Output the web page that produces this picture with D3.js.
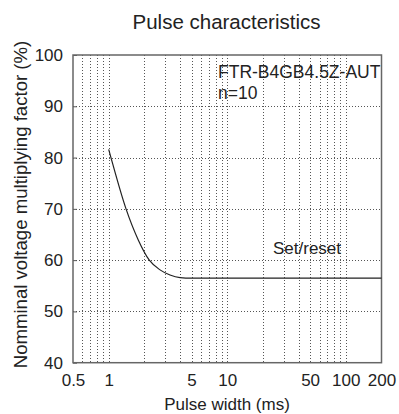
<!DOCTYPE html>
<html><head><meta charset="utf-8">
<script src="https://cdn.jsdelivr.net/npm/d3@7"></script>
<style>body{margin:0;background:#fff}svg{display:block}text{font-family:"Liberation Sans",Arial,sans-serif;fill:#222}</style>
</head><body>
<script>
const pulseWidth = [1, 1.045, 1.4, 1.78, 2.2, 2.71, 3.29, 4.0, 5, 10, 50, 200];
const factor     = [81.6, 80, 70, 63.9, 60, 58.1, 57.1, 56.6, 56.5, 56.5, 56.5, 56.5];
const xTickLabels = [0.5, 1, 5, 10, 50, 100, 200];
const yTickLabels = [40, 50, 60, 70, 80, 90, 100];
const xGridValues = [0.6,0.7,0.8,0.9,1,2,3,4,5,6,7,8,9,10,20,30,40,50,60,70,80,90,100];
const yGridValues = [50, 60, 70, 80, 90];
const title = "Pulse characteristics";
const xTitle = "Pulse width (ms)";
const yTitle = "Nomminal voltage multiplying factor (%)";
const annotations = ["FTR-B4GB4.5Z-AUT", "n=10"];
const seriesLabel = "Set/reset";

const W = 399, H = 414;
const L = 73, R = 381.5, T = 55, B = 362.7;
const svg = d3.select("body").append("svg").attr("width", W).attr("height", H);
const x = d3.scaleLog().domain([0.5, 200]).range([L, R]);
const y = d3.scaleLinear().domain([40, 100]).range([B, T]);

const grid = svg.append("g").attr("stroke", "#555").attr("stroke-width", 1).attr("stroke-dasharray", "1,2");
grid.selectAll(".vx").data(xGridValues).join("line")
  .attr("x1", d => Math.round(x(d)) + 0.5).attr("x2", d => Math.round(x(d)) + 0.5)
  .attr("y1", T).attr("y2", B);
grid.selectAll(".hy").data(yGridValues).join("line")
  .attr("y1", d => Math.round(y(d)) + 0.5).attr("y2", d => Math.round(y(d)) + 0.5)
  .attr("x1", L).attr("x2", R);

// axes
const xAxis = d3.axisBottom(x).tickValues(xTickLabels).tickSize(0).tickPadding(11).tickFormat(d => d);
const gx = svg.append("g").attr("transform", `translate(0,${B})`).call(xAxis);
gx.select(".domain").remove();
gx.selectAll("text").attr("font-size", 17).style("font-family", '"Liberation Sans",Arial,sans-serif').attr("fill", "#222");

const yAxis = d3.axisLeft(y).tickValues(yTickLabels).tickSize(-4).tickPadding(10).tickFormat(d => d);
const gy = svg.append("g").attr("transform", `translate(${L},0)`).call(yAxis);
gy.select(".domain").remove();
gy.selectAll("line").attr("stroke", "#555");
gy.selectAll("text").attr("font-size", 17).style("font-family", '"Liberation Sans",Arial,sans-serif').attr("fill", "#222");

svg.append("rect").attr("x", L).attr("y", T).attr("width", R - L).attr("height", B - T)
  .attr("fill", "none").attr("stroke", "#666").attr("stroke-width", 1.5);

// curve
const line = d3.line().x((d, i) => x(pulseWidth[i])).y((d, i) => y(factor[i])).curve(d3.curveMonotoneX);
svg.append("path").datum(factor).attr("d", line).attr("fill", "none").attr("stroke", "#222").attr("stroke-width", 1.2);

// texts
svg.append("text").attr("x", 226.5).attr("y", 29).attr("text-anchor", "middle").attr("font-size", 20.5).text(title);
svg.append("text").attr("x", 227).attr("y", 410).attr("text-anchor", "middle").attr("font-size", 17).text(xTitle);
svg.append("text").attr("transform", "translate(27,204.5) rotate(-90)").attr("text-anchor", "middle").attr("font-size", 18.6).text(yTitle);
svg.append("text").attr("x", 218).attr("y", 78).attr("font-size", 17.5).text(annotations[0]);
svg.append("text").attr("x", 218).attr("y", 99).attr("font-size", 17.5).text(annotations[1]);
svg.append("text").attr("x", 273).attr("y", 254).attr("font-size", 17).text(seriesLabel);
</script>
</body></html>
